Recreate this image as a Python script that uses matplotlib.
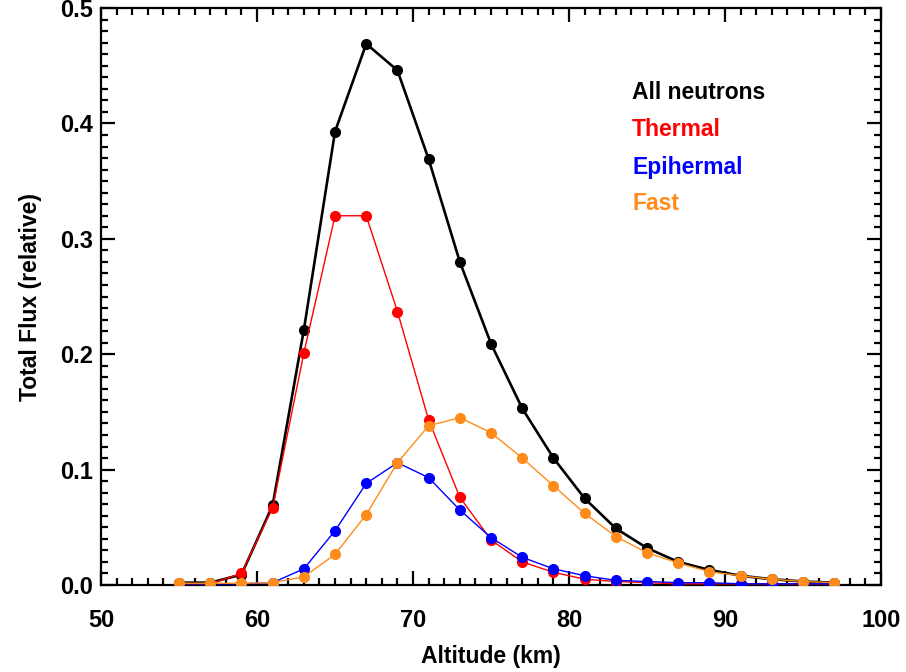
import numpy as np
import matplotlib
matplotlib.use('Agg')
import matplotlib.pyplot as plt
from matplotlib.ticker import MultipleLocator

plt.rcParams['font.family'] = ['Liberation Sans', 'DejaVu Sans']
plt.rcParams['font.weight'] = 'bold'

# altitude grid (km)
altitude = [55, 57, 59, 61, 63, 65, 67, 69, 71, 73, 75, 77, 79, 81, 83, 85, 87, 89, 91, 93, 95, 97]

# relative flux
all_neutrons = [0.002, 0.002, 0.009, 0.069, 0.221, 0.393, 0.469, 0.446, 0.369, 0.280, 0.209, 0.153,
                0.110, 0.075, 0.049, 0.032, 0.020, 0.013, 0.008, 0.005, 0.003, 0.002]
thermal = [0.001, 0.001, 0.010, 0.067, 0.201, 0.320, 0.320, 0.237, 0.143, 0.076, 0.039, 0.020,
           0.011, 0.005, 0.003, 0.002, 0.001, 0.001, 0.001, 0.001, 0.001, 0.001]
epithermal = [0.001, 0.001, 0.001, 0.002, 0.014, 0.047, 0.088, 0.106, 0.093, 0.065, 0.041, 0.024,
              0.014, 0.008, 0.004, 0.003, 0.002, 0.002, 0.001, 0.001, 0.001, 0.001]
fast = [0.0015, 0.0015, 0.0015, 0.002, 0.007, 0.0265, 0.061, 0.106, 0.138, 0.145, 0.132, 0.110,
        0.086, 0.062, 0.042, 0.028, 0.019, 0.0115, 0.008, 0.005, 0.003, 0.002]

labels = ['All neutrons', 'Thermal', 'Epihermal', 'Fast']
colors = ['black', '#ff0000', '#0000ff', '#ff8c1a']

fig = plt.figure(figsize=(9.06, 6.72), dpi=100)
ax = fig.add_axes([0.1115, 0.1295, 0.861, 0.8585])

ax.plot(altitude, all_neutrons, color=colors[0], lw=1.9, marker='o', ms=7, zorder=3)
ax.plot(altitude, thermal, color=colors[1], lw=1.0, marker='o', ms=7, zorder=4)
ax.plot(altitude, epithermal, color=colors[2], lw=1.0, marker='o', ms=7, zorder=5)
ax.plot(altitude, fast, color=colors[3], lw=1.0, marker='o', ms=7, zorder=6)

ax.set_xlim(50, 100)
ax.set_ylim(0, 0.5)
ax.xaxis.set_major_locator(MultipleLocator(10))
ax.xaxis.set_minor_locator(MultipleLocator(1))
ax.yaxis.set_major_locator(MultipleLocator(0.1))
ax.yaxis.set_minor_locator(MultipleLocator(0.01))
ax.yaxis.set_major_formatter(plt.FuncFormatter(lambda v, p: '%.1f' % v))

ax.tick_params(which='both', direction='in', top=True, right=True, width=1.6)
ax.tick_params(which='major', length=10)
ax.tick_params(which='minor', length=5)
ax.tick_params(axis='x', which='major', pad=17, labelsize=17)
ax.tick_params(axis='y', which='major', pad=6, labelsize=17)
for s in ax.spines.values():
    s.set_linewidth(1.6)

ax.set_xlabel('Altitude (km)', fontsize=16.5, fontweight='bold', labelpad=10)
ax.set_ylabel('Total Flux (relative)', fontsize=16.5, fontweight='bold', labelpad=13)

ypos = [0.853, 0.789, 0.724, 0.662]
for lab, c, yp in zip(labels, colors, ypos):
    ax.text(0.681, yp, lab, color=c, fontsize=16.5, fontweight='bold',
            transform=ax.transAxes, va='center', ha='left')

fig.savefig('out.png', dpi=100)
